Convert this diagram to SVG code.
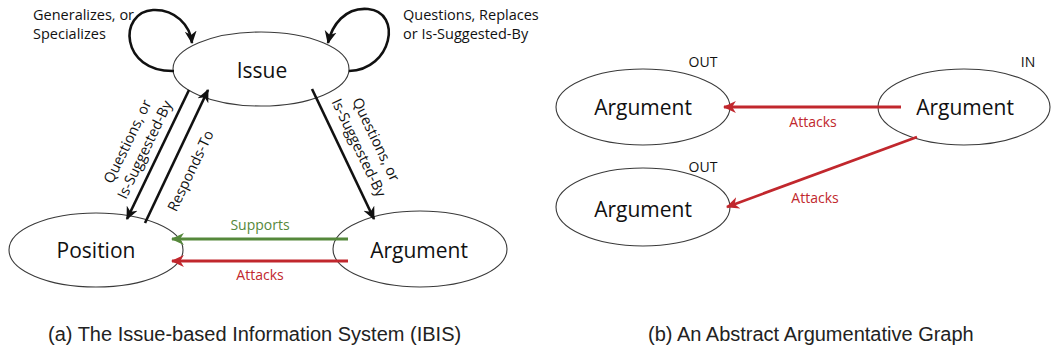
<svg xmlns="http://www.w3.org/2000/svg" width="1051" height="351" viewBox="0 0 1051 351">
<style>
.node{fill:#fff;stroke:#3a3a3a;stroke-width:1.1}
.nt{font-family:"Open Sans","Noto Sans",sans-serif;font-size:21px;fill:#111;text-anchor:middle}
.lb{font-family:"Open Sans","Noto Sans",sans-serif;font-size:14.5px;fill:#111}
.ct{font-family:"Open Sans","Noto Sans",sans-serif;font-size:14px;text-anchor:middle}
.cap{font-family:"Liberation Sans",Arial,sans-serif;font-size:20px;fill:#222}
.k{fill:none;stroke:#111;stroke-width:2.6}
.g{fill:none;stroke:#55883b;stroke-width:2.8}
.r{fill:none;stroke:#c1272d;stroke-width:2.8}
</style>
<defs>
<marker id="ak" viewBox="0 0 12 12" refX="11" refY="6" markerWidth="13" markerHeight="13" markerUnits="userSpaceOnUse" orient="auto"><path d="M0,0.5 L12,6 L0,11.5 L3.5,6 z" fill="#111"/></marker>
<marker id="ag" viewBox="0 0 12 12" refX="11" refY="6" markerWidth="13" markerHeight="13" markerUnits="userSpaceOnUse" orient="auto"><path d="M0,0.5 L12,6 L0,11.5 L3.5,6 z" fill="#55883b"/></marker>
<marker id="ar" viewBox="0 0 12 12" refX="11" refY="6" markerWidth="13" markerHeight="13" markerUnits="userSpaceOnUse" orient="auto"><path d="M0,0.5 L12,6 L0,11.5 L3.5,6 z" fill="#c1272d"/></marker>
</defs>

<g id="issue">
<ellipse class="node" cx="261" cy="69" rx="88" ry="37"/>
<text class="nt" x="262" y="78">Issue</text>
</g>
<g id="position">
<ellipse class="node" cx="96" cy="250" rx="87" ry="37"/>
<text class="nt" x="96" y="258">Position</text>
</g>
<g id="argument-a">
<ellipse class="node" cx="420" cy="249" rx="87" ry="38"/>
<text class="nt" x="419" y="258">Argument</text>
</g>
<g id="argument-out1">
<ellipse class="node" cx="643" cy="107" rx="87" ry="38"/>
<text class="nt" x="643" y="115">Argument</text>
<text class="ct" x="703" y="67" fill="#111">OUT</text>
</g>
<g id="argument-out2">
<ellipse class="node" cx="643" cy="207" rx="87" ry="39"/>
<text class="nt" x="643" y="217">Argument</text>
<text class="ct" x="703" y="172" fill="#111">OUT</text>
</g>
<g id="argument-in">
<ellipse class="node" cx="964" cy="107" rx="86" ry="38"/>
<text class="nt" x="965" y="115">Argument</text>
<text class="ct" x="1028" y="67" fill="#111">IN</text>
</g>

<g id="connectors">
<path class="k" d="M174,71 C120,72 118,12 153,10 C175,9 190,25 192,43" marker-end="url(#ak)"/>
<path class="k" d="M349,71 C392,70 403,12 368,9 C345,7 332,25 328,43" marker-end="url(#ak)"/>
<path class="k" d="M189,90 L127,219" marker-end="url(#ak)"/>
<path class="k" d="M145,223 L208,90" marker-end="url(#ak)"/>
<path class="k" d="M312,89 L374,219" marker-end="url(#ak)"/>
<path class="g" d="M348,239 L172,239" marker-end="url(#ag)"/>
<path class="r" d="M348,261 L172,261" marker-end="url(#ar)"/>
<path class="r" d="M901,107 L724,107" marker-end="url(#ar)"/>
<path class="r" d="M917,137 L727,207" marker-end="url(#ar)"/>

<text class="lb" x="33" y="20">Generalizes, or</text>
<text class="lb" x="33" y="39">Specializes</text>
<text class="lb" x="403" y="20">Questions, Replaces</text>
<text class="lb" x="403" y="39">or Is-Suggested-By</text>
<text class="lb" text-anchor="middle" transform="translate(137,146) rotate(-64.3)"><tspan x="0" y="-5.5">Questions, or</tspan><tspan x="0" y="13.5">Is-Suggested-By</tspan></text>
<text class="lb" text-anchor="middle" transform="translate(191,171) rotate(-64.5)" y="4.5">Responds-To</text>
<text class="lb" text-anchor="middle" transform="translate(366.5,144) rotate(64.5)"><tspan x="0" y="-5.5">Questions, or</tspan><tspan x="0" y="13.5">Is-Suggested-By</tspan></text>
<text class="ct" x="260" y="230" fill="#55883b">Supports</text>
<text class="ct" x="260" y="280" fill="#c1272d">Attacks</text>
<text class="ct" x="813" y="127" fill="#c1272d">Attacks</text>
<text class="ct" x="815" y="203" fill="#c1272d">Attacks</text>
</g>

<text class="cap" x="48" y="341">(a) The Issue-based Information System (IBIS)</text>
<text class="cap" x="648" y="341">(b) An Abstract Argumentative Graph</text>
</svg>
